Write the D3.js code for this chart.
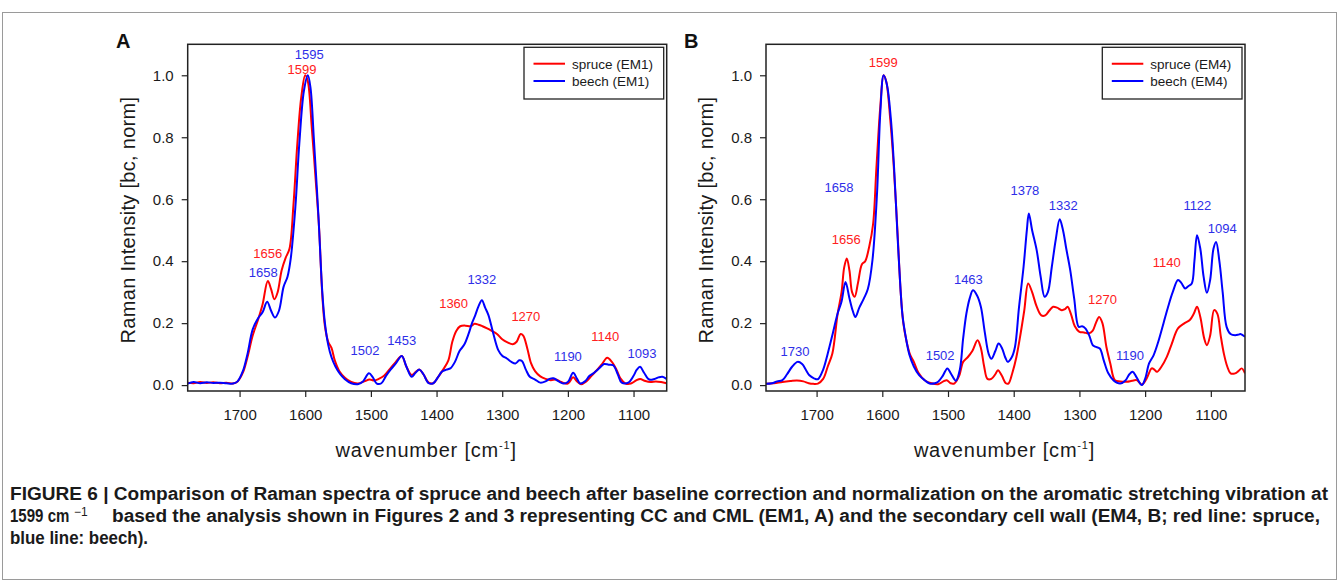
<!DOCTYPE html>
<html>
<head>
<meta charset="utf-8">
<script src="https://cdn.jsdelivr.net/npm/d3@7/dist/d3.min.js"></script>
<style>
  html, body { margin: 0; padding: 0; background: #fff; }
  svg { display: block; }
  text { font-family: "Liberation Sans", Arial, sans-serif; }
</style>
</head>
<body>
<svg id="chart" width="1339" height="581"></svg>
<script>
// ---------------- DATA ----------------
const yTicks = [0.0, 0.2, 0.4, 0.6, 0.8, 1.0];
const xTicks = [1700, 1600, 1500, 1400, 1300, 1200, 1100];

// Panel A (EM1)
const wnA_spruce = [1779,1770,1760,1750,1740,1730,1720,1710,1703,1695,1688,1680,1672,1665,1657,1652,1647,1642,1636,1630,1624,1618,1612,1606,1600,1596,1590,1584,1579,1574,1570,1565,1560,1555,1548,1540,1530,1520,1510,1502,1495,1488,1480,1470,1462,1453,1446,1438,1432,1426,1420,1412,1405,1398,1390,1382,1376,1370,1364,1356,1348,1342,1336,1330,1323,1316,1308,1300,1292,1284,1278,1272,1268,1262,1256,1250,1242,1234,1226,1218,1210,1200,1192,1186,1180,1172,1164,1156,1148,1140,1133,1126,1120,1112,1104,1096,1090,1082,1074,1066,1058,1050];
const intA_spruce = [0.008,0.006,0.010,0.007,0.009,0.006,0.008,0.005,0.012,0.040,0.090,0.160,0.210,0.260,0.336,0.310,0.277,0.300,0.370,0.410,0.440,0.580,0.780,0.930,1.000,0.980,0.830,0.660,0.510,0.290,0.190,0.140,0.120,0.080,0.045,0.025,0.010,0.005,0.012,0.018,0.015,0.020,0.030,0.055,0.075,0.094,0.060,0.033,0.042,0.050,0.035,0.008,0.006,0.025,0.050,0.080,0.140,0.175,0.190,0.192,0.190,0.198,0.195,0.190,0.183,0.175,0.165,0.148,0.138,0.132,0.140,0.165,0.160,0.120,0.070,0.045,0.028,0.020,0.016,0.018,0.010,0.005,0.025,0.012,0.003,0.012,0.030,0.048,0.068,0.088,0.075,0.050,0.022,0.005,0.005,0.015,0.020,0.013,0.010,0.012,0.010,0.006];

const wnA_beech = [1779,1770,1760,1750,1740,1730,1720,1710,1703,1695,1688,1680,1672,1665,1658,1652,1646,1640,1633,1627,1622,1615,1609,1602,1596,1592,1587,1580,1574,1570,1565,1560,1554,1547,1540,1530,1520,1512,1503,1497,1491,1484,1477,1470,1462,1453,1446,1438,1432,1426,1420,1412,1405,1398,1392,1385,1379,1372,1365,1358,1351,1346,1341,1336,1331,1326,1321,1314,1306,1300,1293,1286,1280,1274,1270,1264,1258,1250,1242,1234,1228,1222,1214,1207,1200,1192,1186,1181,1174,1167,1160,1152,1145,1138,1131,1124,1118,1108,1100,1095,1090,1084,1076,1068,1062,1056,1050];
const intA_beech = [0.005,0.010,0.006,0.009,0.007,0.008,0.006,0.005,0.012,0.045,0.100,0.180,0.215,0.235,0.269,0.240,0.218,0.240,0.317,0.350,0.410,0.575,0.780,0.950,1.000,0.960,0.800,0.550,0.300,0.200,0.130,0.090,0.060,0.036,0.020,0.006,0.003,0.012,0.038,0.025,0.005,0.006,0.030,0.050,0.070,0.094,0.060,0.027,0.040,0.050,0.035,0.006,0.006,0.025,0.043,0.050,0.054,0.075,0.110,0.130,0.167,0.200,0.226,0.255,0.274,0.250,0.226,0.170,0.113,0.095,0.086,0.075,0.070,0.080,0.078,0.050,0.027,0.018,0.008,0.012,0.020,0.022,0.012,0.005,0.010,0.040,0.020,0.005,0.012,0.030,0.040,0.055,0.068,0.066,0.064,0.035,0.008,0.008,0.030,0.050,0.059,0.040,0.018,0.020,0.025,0.027,0.020];

// Panel B (EM4)
const wnB_spruce = [1777,1765,1752,1740,1730,1720,1712,1705,1698,1690,1683,1676,1668,1662,1658,1654,1650,1646,1642,1637,1631,1626,1620,1614,1609,1603,1598,1594,1588,1583,1577,1572,1568,1563,1558,1552,1545,1535,1525,1515,1507,1502,1496,1490,1483,1477,1470,1463,1455,1450,1445,1440,1434,1428,1424,1418,1412,1408,1402,1396,1390,1384,1378,1372,1365,1358,1352,1346,1340,1334,1327,1322,1318,1313,1307,1300,1293,1286,1280,1275,1270,1265,1259,1253,1246,1238,1228,1220,1213,1205,1198,1190,1186,1182,1175,1167,1160,1150,1140,1132,1126,1121,1116,1110,1106,1101,1095,1090,1085,1080,1075,1070,1063,1058,1053,1048];
const intB_spruce = [0.004,0.006,0.010,0.013,0.015,0.012,0.006,0.004,0.005,0.020,0.060,0.102,0.230,0.300,0.380,0.409,0.370,0.300,0.285,0.330,0.390,0.400,0.446,0.520,0.700,0.900,1.000,0.980,0.860,0.720,0.500,0.300,0.200,0.140,0.100,0.075,0.040,0.015,0.006,0.003,0.012,0.016,0.006,0.006,0.030,0.075,0.090,0.110,0.145,0.120,0.060,0.020,0.020,0.035,0.048,0.030,0.006,0.005,0.040,0.090,0.160,0.240,0.328,0.300,0.253,0.225,0.225,0.240,0.253,0.250,0.242,0.245,0.253,0.230,0.190,0.172,0.170,0.167,0.175,0.200,0.220,0.200,0.124,0.070,0.016,0.012,0.011,0.014,0.016,0.002,0.020,0.054,0.050,0.043,0.060,0.091,0.130,0.183,0.200,0.210,0.230,0.253,0.220,0.150,0.129,0.160,0.242,0.230,0.160,0.100,0.060,0.038,0.038,0.045,0.054,0.038];

const wnB_beech = [1777,1768,1760,1752,1745,1737,1729,1722,1716,1711,1704,1698,1690,1683,1675,1668,1662,1656,1650,1645,1641,1635,1628,1622,1615,1608,1603,1598,1593,1587,1582,1577,1572,1569,1563,1559,1552,1544,1535,1528,1520,1515,1508,1501,1495,1488,1482,1477,1472,1467,1462,1456,1450,1444,1438,1434,1428,1423,1418,1413,1409,1403,1398,1392,1385,1380,1377,1372,1365,1359,1353,1348,1342,1336,1330,1325,1320,1314,1308,1301,1296,1291,1285,1280,1276,1269,1263,1256,1248,1238,1230,1224,1219,1213,1205,1200,1194,1187,1180,1172,1165,1158,1150,1145,1139,1134,1129,1125,1121,1116,1111,1106,1101,1096,1092,1087,1082,1076,1070,1063,1058,1055,1048];
const intB_beech = [0.004,0.006,0.012,0.016,0.035,0.060,0.075,0.068,0.048,0.032,0.022,0.019,0.050,0.102,0.170,0.231,0.270,0.333,0.280,0.240,0.220,0.250,0.280,0.310,0.403,0.620,0.880,1.000,0.970,0.860,0.700,0.489,0.300,0.220,0.140,0.100,0.060,0.032,0.015,0.005,0.006,0.011,0.030,0.054,0.035,0.014,0.050,0.150,0.231,0.280,0.306,0.290,0.253,0.170,0.100,0.085,0.110,0.134,0.120,0.090,0.075,0.090,0.124,0.250,0.382,0.500,0.554,0.500,0.435,0.350,0.285,0.300,0.382,0.470,0.535,0.500,0.440,0.371,0.280,0.188,0.190,0.183,0.160,0.130,0.124,0.118,0.080,0.038,0.015,0.005,0.015,0.035,0.043,0.025,0.000,0.020,0.070,0.097,0.140,0.200,0.253,0.300,0.339,0.330,0.312,0.320,0.328,0.400,0.484,0.440,0.350,0.298,0.340,0.440,0.462,0.400,0.300,0.188,0.165,0.161,0.163,0.165,0.156];

// Peak annotations
const peaksA_text = ["1595","1599","1656","1658","1502","1453","1360","1332","1270","1190","1140","1093"];
const peaksA_wn   = [1594, 1605, 1657, 1664, 1509, 1453, 1374, 1331, 1264, 1200, 1143, 1087];
const peaksA_val  = [1.051,1.005,0.409,0.349,0.097,0.129,0.249,0.326,0.207,0.077,0.143,0.088];
const peaksA_ser  = ["b","r","r","b","b","b","r","b","r","b","r","b"];

const peaksB_text = ["1599","1658","1656","1730","1502","1463","1378","1332","1122","1094","1140","1270","1190"];
const peaksB_wn   = [1598.5,1666,1655, 1733, 1512, 1469, 1383, 1324.5,1120.5,1082.5,1167,1265, 1223];
const peaksB_val  = [1.027,0.624,0.455,0.0945,0.081,0.325,0.613,0.565,0.565,0.491,0.382,0.261,0.081];
const peaksB_ser  = ["r","b","r","b","b","b","b","b","b","b","r","r","b"];

const legendA = ["spruce (EM1)", "beech (EM1)"];
const legendB = ["spruce (EM4)", "beech (EM4)"];

// ---------------- DRAW ----------------
const svg = d3.select("#chart");
const RED = "#ff0000", BLUE = "#0000ff";
const RED_T = "#ff2020", BLUE_T = "#2e2ee8";

// outer figure border
svg.append("rect").attr("x", 2.5).attr("y", 12.5).attr("width", 1334).attr("height", 567)
  .attr("fill", "none").attr("stroke", "#9a9a9a").attr("stroke-width", 1);

function panel(cfg) {
  const x = d3.scaleLinear().domain(cfg.xdom).range([cfg.left, cfg.right]);
  const y = d3.scaleLinear().domain([-0.019, 1.1]).range([391, 44.3]);
  const g = svg.append("g");
  const clipId = "clip" + cfg.letter;
  svg.append("clipPath").attr("id", clipId).append("rect")
    .attr("x", cfg.left).attr("y", 44.3).attr("width", cfg.right - cfg.left).attr("height", 391 - 44.3);

  // axes
  const yAxis = d3.axisLeft(y).tickValues(yTicks).tickFormat(d3.format(".1f")).tickSize(6).tickPadding(8);
  const gy = g.append("g").attr("transform", `translate(${cfg.left},0)`).call(yAxis);
  gy.select(".domain").remove();
  gy.selectAll("line").attr("stroke", "#222").attr("stroke-width", 1.2);
  gy.selectAll("text").attr("font-size", 15).attr("fill", "#1a1a1a")
    .attr("font-family", "'Liberation Sans', Arial, sans-serif");

  const xAxis = d3.axisBottom(x).tickValues(xTicks).tickFormat(d3.format("d")).tickSize(6).tickPadding(12);
  const gx = g.append("g").attr("transform", `translate(0,391)`).call(xAxis);
  gx.select(".domain").remove();
  gx.selectAll("line").attr("stroke", "#222").attr("stroke-width", 1.2);
  gx.selectAll("text").attr("font-size", 15).attr("fill", "#1a1a1a")
    .attr("font-family", "'Liberation Sans', Arial, sans-serif");

  // lines
  const line = d3.line().x(d => x(d[0])).y(d => y(d[1])).curve(d3.curveCatmullRom.alpha(0.5));
  const lg = g.append("g").attr("clip-path", `url(#${clipId})`);
  cfg.series.forEach(s => {
    const pts = s.wn.map((w, i) => [w, s.v[i]]);
    lg.append("path").datum(pts).attr("d", line).attr("fill", "none")
      .attr("stroke", s.color).attr("stroke-width", 2).attr("stroke-linejoin", "round");
  });

  // frame
  g.append("rect").attr("x", cfg.left).attr("y", 44.3).attr("width", cfg.right - cfg.left).attr("height", 391 - 44.3)
    .attr("fill", "none").attr("stroke", "#222").attr("stroke-width", 1.5);

  // peak labels
  cfg.peaks.text.forEach((t, i) => {
    g.append("text").attr("x", x(cfg.peaks.wn[i])).attr("y", y(cfg.peaks.val[i]))
      .attr("text-anchor", "middle").attr("font-size", 13)
      .attr("fill", cfg.peaks.ser[i] === "r" ? RED_T : BLUE_T).text(t);
  });

  // legend
  const lx = cfg.right - 142.7, ly = 47.3;
  g.append("rect").attr("x", lx).attr("y", ly).attr("width", 139.7).attr("height", 51.7)
    .attr("fill", "#fff").attr("stroke", "#222").attr("stroke-width", 1.3);
  cfg.legend.forEach((t, i) => {
    const yy = ly + 16.4 + i * 17.3;
    g.append("line").attr("x1", lx + 9.5).attr("x2", lx + 41).attr("y1", yy).attr("y2", yy)
      .attr("stroke", i === 0 ? RED : BLUE).attr("stroke-width", 2);
    g.append("text").attr("x", lx + 48).attr("y", yy + 4.8).attr("font-size", 13.5).attr("fill", "#1a1a1a").text(t);
  });

  // axis titles
  const cx = (cfg.left + cfg.right) / 2;
  const xt = g.append("text").attr("x", cx - 1).attr("y", 457).attr("text-anchor", "middle")
    .attr("font-size", 20).attr("letter-spacing", 0.8).attr("fill", "#1a1a1a");
  xt.append("tspan").text("wavenumber [cm");
  xt.append("tspan").attr("font-size", 11).attr("dy", -8).text("-1");
  xt.append("tspan").attr("dy", 8).text("]");

  g.append("text").attr("transform", `translate(${cfg.left - 53},220) rotate(-90)`)
    .attr("text-anchor", "middle").attr("font-size", 20).attr("letter-spacing", 0.3).attr("fill", "#1a1a1a")
    .text("Raman Intensity [bc, norm]");

  // panel letter
  g.append("text").attr("x", cfg.letterX).attr("y", 48).attr("font-size", 20).attr("font-weight", "bold")
    .attr("fill", "#111").text(cfg.letter);
}

panel({
  letter: "A", letterX: 116, left: 187.7, right: 666.7, xdom: [1779, 1049.5],
  series: [{wn: wnA_spruce, v: intA_spruce, color: RED}, {wn: wnA_beech, v: intA_beech, color: BLUE}],
  peaks: {text: peaksA_text, wn: peaksA_wn, val: peaksA_val, ser: peaksA_ser},
  legend: legendA
});
panel({
  letter: "B", letterX: 684, left: 766, right: 1245, xdom: [1777, 1048],
  series: [{wn: wnB_spruce, v: intB_spruce, color: RED}, {wn: wnB_beech, v: intB_beech, color: BLUE}],
  peaks: {text: peaksB_text, wn: peaksB_wn, val: peaksB_val, ser: peaksB_ser},
  legend: legendB
});

// caption
const cap = svg.append("g").attr("font-weight", "bold").attr("font-size", 17.5).attr("fill", "#1a1a1a");
cap.append("text").attr("x", 10).attr("y", 500).attr("textLength", 1318).attr("lengthAdjust", "spacingAndGlyphs")
  .text("FIGURE 6 | Comparison of Raman spectra of spruce and beech after baseline correction and normalization on the aromatic stretching vibration at");
cap.append("text").attr("transform", "translate(10,522) scale(0.86,1)")
  .text("1599 cm");
cap.append("text").attr("x", 74).attr("y", 516).attr("font-weight", "normal").attr("font-family", "'Liberation Serif', serif")
  .attr("font-size", 12).text("\u22121");
cap.append("text").attr("x", 112).attr("y", 522).attr("textLength", 1208).attr("lengthAdjust", "spacingAndGlyphs")
  .text("based the analysis shown in Figures 2 and 3 representing CC and CML (EM1, A) and the secondary cell wall (EM4, B; red line: spruce,");
cap.append("text").attr("x", 10).attr("y", 544).attr("textLength", 138).attr("lengthAdjust", "spacingAndGlyphs")
  .text("blue line: beech).");
</script>
</body>
</html>
